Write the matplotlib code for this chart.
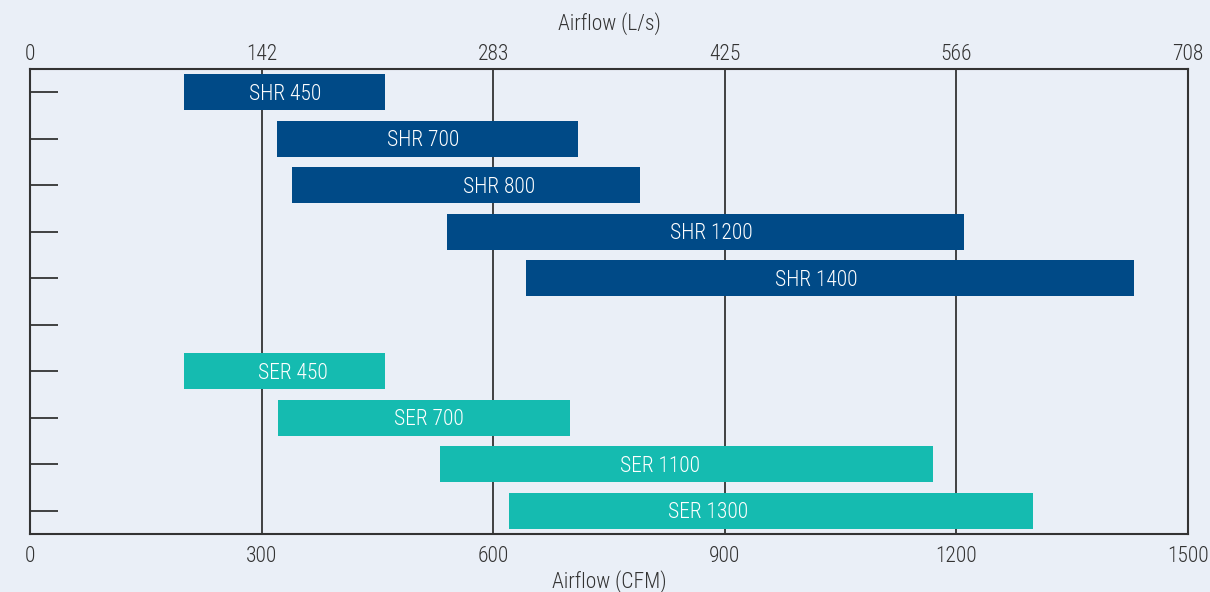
import matplotlib
matplotlib.use('Agg')
from matplotlib import pyplot as plt

# airflow ranges in CFM
shr_names = ['SHR 450', 'SHR 700', 'SHR 800', 'SHR 1200', 'SHR 1400']
shr_min = [200, 320, 340, 540, 642]
shr_max = [460, 710, 790, 1210, 1430]
shr_label_at = [330, 509, 607, 883, 1019]

ser_names = ['SER 450', 'SER 700', 'SER 1100', 'SER 1300']
ser_min = [200, 321, 531, 620]
ser_max = [460, 700, 1170, 1299]
ser_label_at = [341, 517, 816, 878]

cfm_ticks = [0, 300, 600, 900, 1200, 1500]
lps_labels = ['0', '142', '283', '425', '566', '708']

plt.rcParams['font.family'] = ['Roboto Condensed', 'Roboto', 'DejaVu Sans']
plt.rcParams['font.weight'] = 'light'
plt.rcParams['axes.labelweight'] = 'light'

BG = '#eaeff7'
DARK = '#004a87'
TEAL = '#15bbb0'
LINE = '#333333'
FS = 15.5

fig = plt.figure(figsize=(12.1, 5.92), dpi=100, facecolor=BG)
ax = fig.add_axes([30/1210, 1-534/592, (1188-30)/1210, (534-69)/592])
ax.set_facecolor(BG)

rows_shr = list(range(len(shr_names)))
rows_ser = [len(shr_names) + 1 + i for i in range(len(ser_names))]
n_rows = len(shr_names) + 1 + len(ser_names)

def draw_bars(rows, names, lo, hi, lab, color):
    for r, n, a, b, c in zip(rows, names, lo, hi, lab):
        ax.barh(r + 0.5, b - a, left=a, height=0.78, color=color, zorder=3)
        ax.text(c, r + 0.54, n, color='white', fontsize=FS,
                ha='center', va='center', zorder=4)

draw_bars(rows_shr, shr_names, shr_min, shr_max, shr_label_at, DARK)
draw_bars(rows_ser, ser_names, ser_min, ser_max, ser_label_at, TEAL)

ax.set_xlim(0, 1500)
ax.set_ylim(n_rows, 0)
for x in cfm_ticks[1:-1]:
    ax.axvline(x, color=LINE, lw=1.3, zorder=1)

for s in ax.spines.values():
    s.set_color(LINE)
    s.set_linewidth(1.5)

ax.set_yticks([r + 0.5 for r in range(n_rows)])
ax.set_yticklabels([])
ax.tick_params(axis='y', direction='in', length=20, width=1.3, color=LINE)

ax.set_xticks(cfm_ticks)
ax.set_xticklabels([str(t) for t in cfm_ticks])
ax.tick_params(axis='x', length=0, pad=9, labelsize=FS, labelcolor='#333333')
ax.set_xlabel('Airflow (CFM)', fontsize=FS, color='#333333', labelpad=2)

top = ax.twiny()
top.set_xlim(0, 1500)
top.set_xticks(cfm_ticks)
top.set_xticklabels(lps_labels)
top.tick_params(axis='x', length=0, pad=3, labelsize=FS, labelcolor='#333333')
top.set_xlabel('Airflow (L/s)', fontsize=FS, color='#333333', labelpad=10)
for s in top.spines.values():
    s.set_visible(False)

fig.savefig('out.png', dpi=100, facecolor=BG)
